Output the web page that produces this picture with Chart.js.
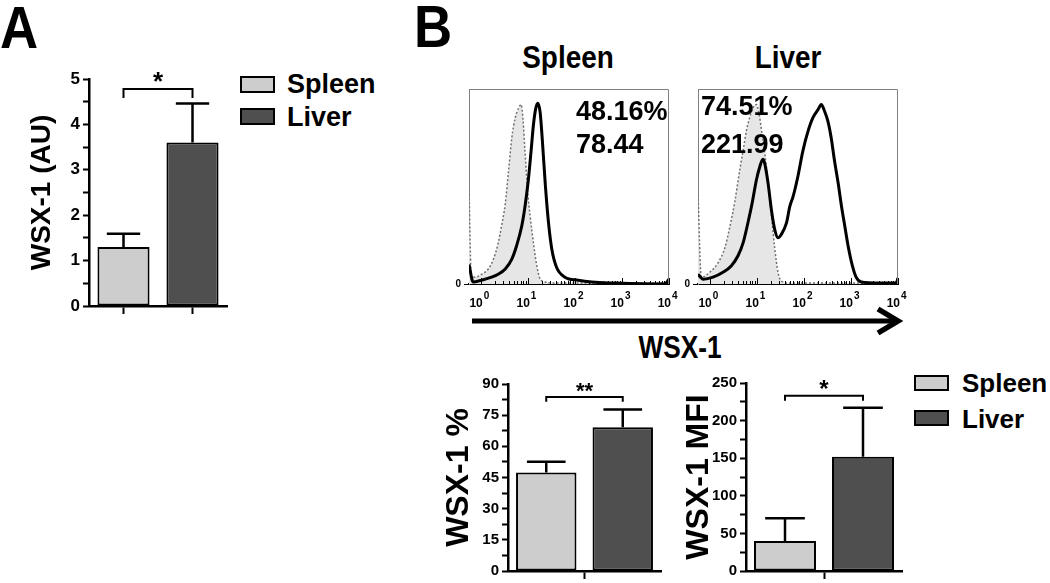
<!DOCTYPE html>
<html>
<head>
<meta charset="utf-8">
<script src="https://cdn.jsdelivr.net/npm/chart.js@4.4.1/dist/chart.umd.min.js"></script>
<style>
  body { margin: 0; background: #fff; }
  #fig { position: relative; width: 1050px; height: 583px; overflow: hidden;
         font-family: 'Liberation Sans', Arial, Helvetica, sans-serif; font-weight: bold; color: #000; }
  #fig canvas, #fig .txt, #fig .key, #fig svg { position: absolute; }
  .txt { white-space: nowrap; line-height: 1; }
  .key { border: 2px solid #000; box-sizing: border-box; }
</style>
</head>
<body>
<div id="fig">
  <div class="txt" style="left:0;top:-2px;font-size:60px;transform:scaleX(0.88);transform-origin:left">A</div>
  <div class="txt" style="left:414px;top:-3px;font-size:60px;transform:scaleX(0.88);transform-origin:left">B</div>

  <div class="key" style="left:240px;top:76px;width:35px;height:17px;background:#cdcdcd"></div>
  <div class="key" style="left:240px;top:108px;width:35px;height:17px;background:#4f4f4f"></div>
  <div class="txt" style="left:287px;top:71px;font-size:27px">Spleen</div>
  <div class="txt" style="left:287px;top:104px;font-size:27px">Liver</div>

  <div class="txt" style="left:468px;top:42px;width:200px;text-align:center;font-size:31px;transform:scaleX(0.9)">Spleen</div>
  <div class="txt" style="left:688px;top:42px;width:200px;text-align:center;font-size:31px;transform:scaleX(0.9)">Liver</div>

  <svg width="1050" height="583" style="left:0;top:0">
    <line x1="472" y1="321" x2="894" y2="321" stroke="#000" stroke-width="5"/>
    <polyline points="878,309 898,321 878,333" fill="none" stroke="#000" stroke-width="5.5"/>
  </svg>
  <div class="txt" style="left:580px;top:331px;width:200px;text-align:center;font-size:32px;transform:scaleX(0.82)">WSX-1</div>

  <div class="key" style="left:914px;top:375px;width:35px;height:16px;background:#cdcdcd"></div>
  <div class="key" style="left:914px;top:410px;width:35px;height:16px;background:#4f4f4f"></div>
  <div class="txt" style="left:962px;top:370px;font-size:26px">Spleen</div>
  <div class="txt" style="left:962px;top:406px;font-size:26px">Liver</div>
</div>

<script>
const fam = "'Liberation Sans', Arial, Helvetica, sans-serif";
Chart.defaults.font.family = fam;
Chart.defaults.font.weight = 'bold';
Chart.defaults.color = '#000';

const groups = ['Spleen', 'Liver'];
const groupColors = ['#cdcdcd', '#4f4f4f'];

// panel A, WSX-1 (AU)
const auMean = [1.3, 3.6];
const auErr = [0.29, 0.86];
// panel B, bottom bars
const pctMean = [47.4, 69.2];
const pctErr = [5.2, 8.5];
const mfiMean = [40, 152];
const mfiErr = [30, 65];

// histograms: [log10 intensity, % of max]
const spleenIso = [[-0.25, 48], [-0.2, 4], [-0.12, 3.5], [0.02, 5], [0.16, 7.7], [0.27, 12.8], [0.37, 21],
  [0.44, 29.6], [0.52, 41], [0.59, 58], [0.66, 75], [0.73, 85], [0.8, 90], [0.86, 92], [0.9, 83.5],
  [0.94, 68], [1.0, 46.5], [1.05, 34.7], [1.12, 21], [1.19, 9.4], [1.26, 2.7], [1.37, 1], [1.6, 0.5],
  [2.5, 0.5], [4.0, 0.5]];
const spleenWsx = [[-0.25, 10], [-0.16, 1], [0.02, 2], [0.23, 3.5], [0.37, 5], [0.52, 7.7], [0.66, 12.8],
  [0.76, 19.5], [0.87, 29.6], [0.94, 39.7], [1.01, 53.2], [1.07, 68.4], [1.12, 81.8], [1.17, 90.2],
  [1.21, 92.7], [1.26, 88.4], [1.31, 73.2], [1.37, 51.5], [1.44, 31.3], [1.51, 17.8], [1.61, 8.6],
  [1.79, 3.5], [2.07, 1.9], [2.36, 1], [2.85, 0.5], [3.91, 0], [4.0, 2.5]];
const liverIso = [[-0.25, 45.6], [-0.18, 3.5], [0.0, 6], [0.18, 11], [0.32, 18.5], [0.42, 28.6], [0.53, 42],
  [0.64, 58.9], [0.71, 68.7], [0.78, 78.8], [0.85, 85.5], [0.92, 90.5], [0.99, 92], [1.05, 87],
  [1.1, 78.8], [1.17, 67], [1.24, 51.9], [1.31, 35], [1.38, 18.5], [1.45, 6], [1.54, 1.2], [1.7, 0.5],
  [4.0, 0.5]];
const liverWsx = [[-0.25, 5], [-0.14, 2.5], [0.07, 3.5], [0.28, 6], [0.46, 9.4], [0.6, 14.5], [0.71, 21.2],
  [0.81, 31.3], [0.9, 41.4], [0.99, 53.2], [1.06, 59.9], [1.13, 64], [1.17, 61.6], [1.24, 51.5],
  [1.31, 38], [1.38, 28], [1.45, 23.7], [1.52, 25.4], [1.63, 31.3], [1.7, 39.7], [1.77, 44.8],
  [1.87, 54.9], [1.98, 68.4], [2.09, 78.5], [2.19, 85.2], [2.3, 89.4], [2.37, 92], [2.44, 88.6],
  [2.51, 83.5], [2.58, 75], [2.65, 63.3], [2.73, 51.5], [2.8, 39.7], [2.87, 29.6], [2.94, 19.5],
  [3.03, 9.4], [3.11, 3.5], [3.22, 1], [3.61, 0.5], [3.96, 0.5], [4.0, 3]];
const histTicks = [0, 1, 2, 3, 4];
const histTickBase = '10';
const histTickExp = ['0', '1', '2', '3', '4'];
const spleenStats = ['48.16%', '78.44'];
const liverStats = ['74.51%', '221.99'];

const fig = document.getElementById('fig');

function placeCanvas(id, left, top, width, height) {
  const c = document.createElement('canvas');
  c.id = id;
  c.width = width;
  c.height = height;
  c.style.left = left + 'px';
  c.style.top = top + 'px';
  c.style.width = width + 'px';
  c.style.height = height + 'px';
  fig.appendChild(c);
  return c;
}

// error bars (upper only), significance bracket and stars
const sigPlugin = {
  id: 'sigBars',
  afterDatasetsDraw(chart, args, opts) {
    const { ctx } = chart;
    const y = chart.scales.y;
    const bars = chart.getDatasetMeta(0).data;
    const mean = chart.data.datasets[0].data;
    ctx.save();
    ctx.strokeStyle = '#000';
    ctx.lineWidth = 2.5;
    bars.forEach((bar, i) => {
      const top = y.getPixelForValue(mean[i] + opts.err[i]);
      const half = bar.width * 0.32;
      ctx.beginPath();
      ctx.moveTo(bar.x, bar.y);
      ctx.lineTo(bar.x, top);
      ctx.moveTo(bar.x - half, top);
      ctx.lineTo(bar.x + half, top);
      ctx.stroke();
    });
    const by = y.getPixelForValue(opts.bracket);
    const dy = y.getPixelForValue(opts.bracket - opts.drop);
    ctx.lineWidth = 2;
    ctx.beginPath();
    ctx.moveTo(bars[0].x, dy);
    ctx.lineTo(bars[0].x, by);
    ctx.lineTo(bars[1].x, by);
    ctx.lineTo(bars[1].x, dy);
    ctx.stroke();
    ctx.fillStyle = '#000';
    ctx.font = `bold ${opts.starSize}px ${fam}`;
    ctx.textAlign = 'center';
    ctx.textBaseline = 'alphabetic';
    ctx.fillText(opts.stars, (bars[0].x + bars[1].x) / 2, by + 1);
    ctx.restore();
  }
};

function renderBarChart(id, frame, cfg) {
  const canvas = placeCanvas(id, frame.left, frame.top, frame.width, frame.height);
  new Chart(canvas, {
    type: 'bar',
    data: {
      labels: groups,
      datasets: [{
        data: cfg.mean,
        backgroundColor: groupColors,
        borderColor: '#000',
        borderWidth: 2,
        borderSkipped: false,
        barPercentage: cfg.barPct,
        categoryPercentage: 1
      }]
    },
    options: {
      responsive: false,
      animation: false,
      devicePixelRatio: 1,
      layout: { padding: { top: frame.padTop, right: frame.padRight, left: 0, bottom: 0 } },
      plugins: {
        legend: { display: false },
        tooltip: { enabled: false },
        sigBars: { err: cfg.err, bracket: cfg.bracket, drop: cfg.drop, stars: cfg.stars, starSize: cfg.starSize }
      },
      scales: {
        x: {
          afterFit: s => { s.height = frame.axisBottom; },
          ticks: { display: false },
          grid: {
            drawOnChartArea: false,
            offset: cfg.midTick,
            tickLength: 8,
            tickWidth: 2,
            tickColor: ctx => (!cfg.midTick || ctx.index === 1) ? '#000' : 'rgba(0,0,0,0)'
          },
          border: { color: '#000', width: 2.5 }
        },
        y: {
          min: 0,
          max: cfg.max,
          afterFit: s => { s.width = frame.axisLeft; },
          ticks: {
            stepSize: cfg.step / 2,
            maxTicksLimit: 20,
            autoSkip: false,
            padding: 3,
            font: { size: cfg.tickSize, weight: 'bold' },
            callback: v => (Math.abs(v % cfg.step) < 1e-9 ? v : '')
          },
          grid: { drawOnChartArea: false, tickLength: 6, tickWidth: 2, tickColor: '#000' },
          border: { color: '#000', width: 2.5 },
          title: {
            display: true,
            text: cfg.title,
            color: '#000',
            font: { size: cfg.titleSize, weight: 'bold', lineHeight: 1.2 },
            padding: { top: cfg.titlePad, bottom: 0 }
          }
        }
      }
    },
    plugins: [sigPlugin]
  });
}

// box, log ticks, decade labels and the stats text of a histogram
const histPlugin = {
  id: 'histDecor',
  afterDraw(chart, args, opts) {
    const { ctx, chartArea: a } = chart;
    const x = chart.scales.x;
    ctx.save();
    ctx.strokeStyle = '#808080';
    ctx.lineWidth = 1;
    ctx.beginPath();
    ctx.moveTo(a.left, a.top + 0.5);
    ctx.lineTo(a.right - 0.5, a.top + 0.5);
    ctx.lineTo(a.right - 0.5, a.bottom);
    ctx.stroke();
    ctx.strokeStyle = '#000';
    for (let d = 0; d <= 4; d++) {
      for (let k = 1; k < 10; k++) {
        if (d === 4 && k > 1) break;
        const px = Math.round(x.getPixelForValue(d + Math.log10(k))) + 0.5;
        const len = k === 1 ? 6 : 3;
        ctx.beginPath();
        ctx.moveTo(px, a.bottom);
        ctx.lineTo(px, a.bottom - len);
        ctx.stroke();
      }
    }
    ctx.fillStyle = '#000';
    ctx.textBaseline = 'alphabetic';
    histTicks.forEach((v, i) => {
      const px = x.getPixelForValue(v);
      ctx.font = `bold 12px ${fam}`;
      ctx.textAlign = 'right';
      ctx.fillText(histTickBase, px + 2, a.bottom + 23);
      ctx.font = `bold 10px ${fam}`;
      ctx.textAlign = 'left';
      ctx.fillText(histTickExp[i], px + 3, a.bottom + 15);
    });
    ctx.font = `bold 27px ${fam}`;
    ctx.textAlign = 'left';
    opts.lines.forEach((t, i) => ctx.fillText(t, a.left + opts.dx, a.top + opts.dy[i]));
    ctx.restore();
  }
};

function renderHistogram(id, left, iso, wsx, stats, place) {
  const canvas = placeCanvas(id, left, 80, 235, 230);
  new Chart(canvas, {
    type: 'line',
    data: {
      datasets: [
        {
          data: wsx.map(p => ({ x: p[0], y: p[1] })),
          borderColor: '#000',
          borderWidth: 3,
          pointRadius: 0,
          fill: false,
          cubicInterpolationMode: 'monotone',
          order: 0
        },
        {
          data: iso.map(p => ({ x: p[0], y: p[1] })),
          borderColor: '#707070',
          borderWidth: 1.5,
          borderDash: [2, 2],
          backgroundColor: '#e6e6e6',
          fill: 'origin',
          pointRadius: 0,
          cubicInterpolationMode: 'monotone',
          order: 1
        }
      ]
    },
    options: {
      responsive: false,
      animation: false,
      devicePixelRatio: 1,
      layout: { padding: { top: 6, right: 11, left: 0, bottom: 0 } },
      plugins: {
        legend: { display: false },
        tooltip: { enabled: false },
        histDecor: { lines: stats, dx: place.dx, dy: place.dy }
      },
      scales: {
        x: {
          type: 'linear',
          min: -0.25,
          max: 4,
          afterBuildTicks: s => { s.ticks = histTicks.map(v => ({ value: v })); },
          afterFit: s => { s.height = 26; },
          ticks: { display: false },
          grid: { display: false },
          border: { color: '#000', width: 2 }
        },
        y: {
          min: 0,
          max: 100,
          afterBuildTicks: s => { s.ticks = [{ value: 0 }]; },
          afterFit: s => { s.width = 24; },
          ticks: { font: { size: 10, weight: 'bold' }, padding: 3 },
          grid: { drawOnChartArea: false, tickLength: 5, tickColor: '#000' },
          border: { color: '#808080', width: 1 }
        }
      }
    },
    plugins: [histPlugin]
  });
}

function renderFigure() {
  renderBarChart('chart-au',
    { left: 0, top: 55, width: 240, height: 280, axisLeft: 89, axisBottom: 29, padTop: 24, padRight: 13 },
    { mean: auMean, err: auErr, max: 5, step: 1, tickSize: 17, barPct: 0.755, midTick: false,
      title: 'WSX-1 (AU)', titleSize: 28, titlePad: 25, bracket: 4.78, drop: 0.2, stars: '*', starSize: 26 });

  renderHistogram('hist-spleen', 445, spleenIso, spleenWsx, spleenStats, { dx: 107, dy: [31, 64] });
  renderHistogram('hist-liver', 674, liverIso, liverWsx, liverStats, { dx: 3, dy: [26, 64] });

  renderBarChart('chart-pct',
    { left: 440, top: 360, width: 230, height: 223, axisLeft: 68, axisBottom: 9, padTop: 24, padRight: 9 },
    { mean: pctMean, err: pctErr, max: 90, step: 15, tickSize: 15, barPct: 0.79, midTick: true,
      title: 'WSX-1 %', titleSize: 32, titlePad: 0, bracket: 83.8, drop: 2.4, stars: '**', starSize: 22 });

  renderBarChart('chart-mfi',
    { left: 680, top: 360, width: 230, height: 223, axisLeft: 66, axisBottom: 7, padTop: 23, padRight: 8 },
    { mean: mfiMean, err: mfiErr, max: 250, step: 50, tickSize: 15, barPct: 0.795, midTick: true,
      title: 'WSX-1 MFI', titleSize: 32, titlePad: 0, bracket: 233, drop: 6.5, stars: '*', starSize: 24 });
}

renderFigure();
</script>
</body>
</html>
